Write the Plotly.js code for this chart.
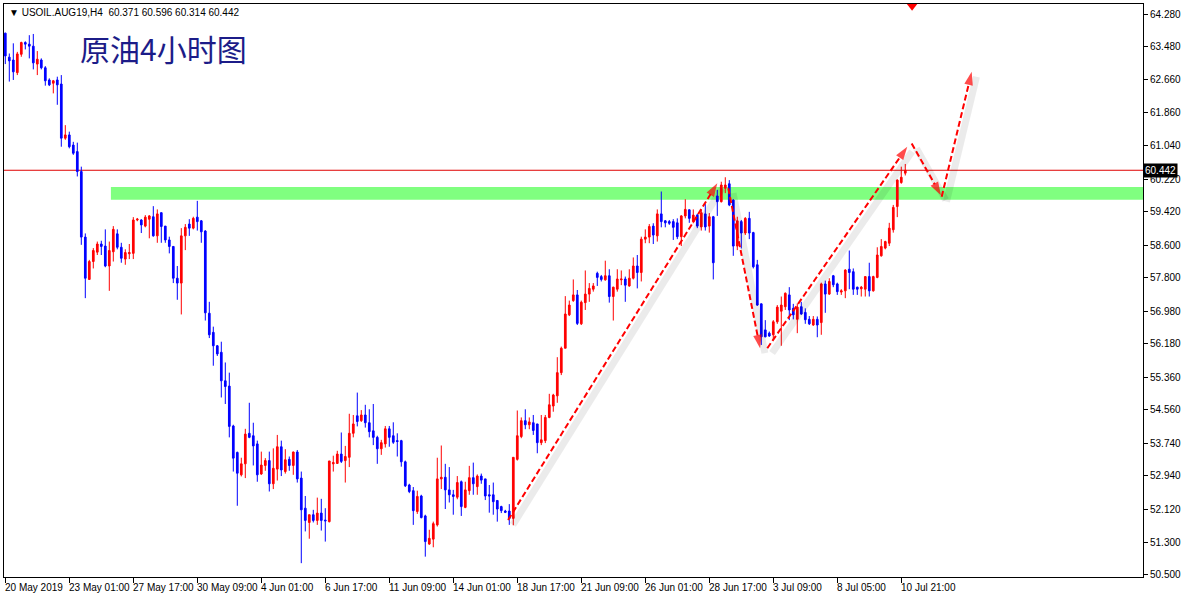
<!DOCTYPE html>
<html><head><meta charset="utf-8">
<script src="https://cdn.plot.ly/plotly-3.0.1.min.js"></script>
<style>
html,body{margin:0;padding:0;background:#fff;}
#chart{width:1184px;height:600px;}
</style>
</head><body><div id="chart"></div>
<script>
// ---- data (USOIL.AUG19, H4) ----
const openPrices = [
63.81,63.22,63.15,62.84,63.29,63.58,63.54,63.49,63.05,63.15,
62.96,62.66,62.58,62.66,62.56,61.23,61.31,61.06,60.90,60.41,
58.80,57.76,58.20,58.43,58.63,58.58,58.09,58.44,58.88,58.55,
58.26,58.39,58.40,59.22,59.22,59.07,59.24,59.30,58.83,59.40,
59.07,58.73,58.57,57.79,57.67,58.83,59.12,59.02,59.29,59.20,
58.95,56.93,56.46,56.13,55.97,55.27,55.14,54.16,53.51,52.96,
53.23,53.98,53.92,53.72,52.98,53.19,53.31,52.74,53.10,53.65,
53.04,53.34,53.19,53.52,52.88,52.14,51.79,51.98,51.84,52.02,
51.85,51.81,53.23,53.24,53.47,53.31,53.39,53.98,54.41,54.29,
54.43,54.24,54.04,53.88,53.60,53.72,54.09,53.92,53.80,53.80,
53.28,52.71,52.57,52.06,52.44,51.95,51.26,51.38,51.73,52.86,
52.90,52.59,52.47,52.41,52.79,52.16,52.57,52.89,52.67,52.93,
52.86,52.47,52.47,52.33,52.18,52.07,52.07,51.89,53.34,53.90,
54.29,54.19,54.24,54.21,53.75,53.80,54.37,54.65,54.90,55.47,
56.07,56.89,57.24,57.38,56.67,57.19,57.40,57.52,57.91,57.83,
57.75,57.85,57.34,57.52,57.75,57.77,57.60,57.79,58.09,57.93,
58.75,58.80,59.07,58.83,59.37,59.20,59.18,59.18,59.15,58.81,
59.32,59.47,59.18,59.34,59.05,59.37,59.07,59.30,59.81,59.67,
60.00,60.11,59.71,58.58,59.18,58.90,59.26,58.91,58.12,57.16,
56.52,56.44,56.40,56.72,56.98,57.09,57.38,57.05,56.78,57.09,
56.95,56.78,56.64,56.78,56.70,57.65,57.40,57.85,57.65,57.45,
57.48,58.01,57.95,57.57,57.53,57.52,57.83,57.48,57.81,58.34,
58.53,58.65,58.98,59.55,60.14,60.371];
const highPrices = [
63.82,63.31,63.56,63.35,63.60,63.61,63.76,63.79,63.37,63.19,
63.00,62.70,62.66,62.74,62.78,61.55,61.39,61.14,61.12,60.53,
58.89,58.24,58.53,58.69,58.71,58.99,58.69,59.07,58.99,58.66,
58.50,58.63,59.29,59.27,59.24,59.34,59.34,59.56,59.48,59.40,
59.07,58.81,58.58,58.09,59.02,59.12,59.24,59.30,59.69,59.22,
58.97,57.21,56.60,56.15,56.23,55.72,55.47,54.19,53.53,53.38,
54.09,54.73,54.24,53.80,53.53,53.37,53.53,53.61,53.94,53.80,
53.59,53.41,53.53,53.57,53.04,52.44,51.98,52.10,52.40,52.37,
52.14,53.30,53.43,53.55,54.00,53.67,54.46,54.43,54.98,54.55,
54.68,54.57,54.70,53.92,53.82,54.16,54.16,54.25,53.98,53.82,
53.31,52.74,52.66,52.57,52.47,51.98,51.61,51.81,53.38,53.68,
53.23,53.15,52.59,52.93,52.82,52.79,53.18,53.26,52.97,52.99,
52.86,52.71,52.77,52.34,52.20,52.10,52.24,53.39,54.54,54.37,
54.57,54.37,54.43,54.21,54.43,54.43,54.95,54.95,55.85,56.11,
57.35,57.24,57.76,57.50,57.24,57.98,57.67,57.67,57.95,57.87,
58.22,58.01,57.58,58.01,57.98,57.83,58.01,58.30,58.36,58.81,
58.99,59.12,59.14,59.48,59.92,59.22,59.22,59.24,59.26,59.34,
59.73,59.48,59.48,59.37,59.48,59.61,59.39,59.32,59.96,60.16,
60.27,60.20,59.73,59.30,59.22,59.29,59.42,58.93,58.24,57.17,
56.76,56.48,56.76,57.13,57.34,57.44,57.57,57.16,57.17,57.21,
57.05,56.86,56.86,56.85,57.68,57.73,57.79,57.87,57.68,57.52,
58.01,58.47,58.03,57.58,57.60,57.83,58.17,57.85,58.55,58.75,
58.71,59.15,59.59,60.22,60.53,60.596];
const lowPrices = [
63.05,62.62,62.66,62.78,63.23,63.41,63.19,62.92,62.78,62.92,
62.52,62.51,62.33,62.05,61.02,61.19,60.98,60.82,60.29,58.61,
57.30,57.75,58.03,58.36,58.36,58.06,57.48,58.20,58.50,58.17,
58.12,58.26,58.26,59.19,58.90,59.04,58.77,58.81,58.66,58.66,
58.66,58.40,57.67,57.26,56.90,58.48,58.83,58.99,58.96,58.66,
56.75,56.32,55.64,55.88,54.86,54.70,53.88,53.04,52.20,52.92,
52.88,53.86,53.19,52.79,52.96,53.06,52.55,52.61,52.82,52.93,
52.99,53.06,52.96,52.77,50.79,51.57,51.39,51.79,51.73,51.59,
51.32,51.79,53.04,53.23,53.25,52.77,53.15,53.88,54.15,54.26,
54.12,53.88,53.69,53.23,53.45,53.63,53.65,53.72,53.41,53.16,
52.66,52.51,51.73,52.00,51.89,50.95,51.24,51.18,51.69,52.61,
52.12,52.28,51.98,52.36,51.95,52.14,52.47,52.47,52.47,52.74,
52.34,52.03,51.98,51.81,52.02,52.02,51.73,51.72,53.31,53.86,
54.08,54.08,53.94,53.49,53.69,53.74,54.35,54.51,54.73,55.41,
56.07,56.86,57.21,56.64,56.64,57.01,57.21,57.46,57.60,57.71,
57.73,57.19,56.75,57.46,57.62,57.21,57.58,57.76,57.54,57.71,
58.65,58.65,58.63,58.69,59.04,59.04,59.10,58.73,58.75,58.58,
59.26,59.15,59.14,59.02,58.96,58.96,58.91,57.76,59.32,59.65,
59.88,59.56,58.34,58.48,58.52,58.85,58.75,58.03,57.11,56.15,
56.34,56.35,56.27,56.67,56.13,57.01,56.76,56.78,56.44,56.89,
56.67,56.64,56.62,56.34,56.40,56.94,57.38,57.57,57.38,57.38,
57.30,57.52,57.38,57.38,57.34,57.34,57.34,57.46,57.79,58.32,
58.50,58.58,58.91,59.29,60.11,60.314];
const closePrices = [
63.25,63.13,62.86,63.30,63.58,63.54,63.49,63.08,63.17,62.96,
62.64,62.54,62.64,62.54,61.23,61.31,61.02,60.86,60.41,58.80,
57.79,58.20,58.47,58.63,58.57,58.09,58.47,58.99,58.55,58.28,
58.42,58.42,59.22,59.24,59.10,59.29,59.32,58.83,59.37,59.06,
58.73,58.57,57.79,57.67,58.83,59.04,59.02,59.26,59.18,58.93,
56.94,56.40,56.13,55.93,55.27,55.13,54.15,53.37,53.00,53.23,
53.96,53.88,53.67,52.96,53.20,53.31,52.74,53.12,53.65,53.08,
53.33,53.19,53.52,52.86,52.10,51.84,51.98,51.84,52.02,51.84,
51.83,53.30,53.26,53.47,53.29,53.41,53.98,54.21,54.27,54.43,
54.24,54.02,53.88,53.60,53.75,54.09,53.88,53.76,53.78,53.28,
52.69,52.55,52.08,52.43,51.91,51.32,51.40,51.76,52.86,52.90,
52.59,52.47,52.43,52.77,52.18,52.59,52.89,52.74,52.93,52.83,
52.44,52.44,52.30,52.12,52.08,52.04,51.89,53.39,53.92,54.29,
54.19,54.26,54.05,53.75,53.82,54.37,54.68,54.92,55.47,56.07,
56.91,57.13,57.38,56.68,57.20,57.40,57.54,57.60,57.81,57.76,
57.85,57.34,57.57,57.77,57.77,57.62,57.79,58.09,57.93,58.75,
58.80,59.06,58.85,59.37,59.18,59.15,59.14,59.04,58.81,59.32,
59.48,59.26,59.34,59.07,59.40,59.05,59.30,58.17,59.67,60.08,
60.08,59.59,58.58,59.20,58.90,59.26,58.90,58.07,57.13,56.35,
56.35,56.37,56.72,57.08,57.13,57.42,57.01,56.89,57.08,56.91,
56.77,56.67,56.78,56.64,57.65,57.40,57.71,57.63,57.46,57.48,
57.99,57.93,57.52,57.52,57.57,57.83,57.48,57.83,58.36,58.57,
58.69,59.02,59.53,60.20,60.27,60.442];

const timeLabels = ["20 May 2019","23 May 01:00","27 May 17:00","30 May 09:00","4 Jun 01:00",
  "6 Jun 17:00","11 Jun 09:00","14 Jun 01:00","18 Jun 17:00","21 Jun 09:00",
  "26 Jun 01:00","28 Jun 17:00","3 Jul 09:00","8 Jul 05:00","10 Jul 21:00"];
const labelEvery = 16; // bars between time labels
const priceTicks = [64.28,63.48,62.66,61.86,61.04,60.22,59.42,58.60,57.80,56.98,56.18,55.36,54.56,53.74,52.94,52.12,51.30,50.50];

const symbolText = "USOIL.AUG19,H4";
const lastOHLC = ["60.371","60.596","60.314","60.442"];
const lastPrice = 60.442;
const titleText = "原油4小时图";

// resistance zone (green band)
const zoneStartBar = 26.4, zoneLow = 59.72, zoneHigh = 60.03;

// hand-drawn dashed arrows: [start, end] in (bar, price)
const arrowBars = [[125.7,178.0],[180.75,188.7],[190.5,225.5],[226.6,233.9],[234.1,241.6]];
const arrowPrices = [[51.85,60.12],[60.00,56.07],[56.07,61.02],[61.10,59.83],[59.79,62.86]];

// alert marker at the top edge
const alertBar = 226.7, alertPrice = 64.47;

// ---- chart ----
const n = closePrices.length;
const barIndex = Array.from({length:n}, (_, i) => i);
const tickBars = timeLabels.map((_, k) => k * labelEvery);
const xRange = [-0.325, 284.43];
const yRange = [50.450, 64.526];
const FONT = "Liberation Sans, Arial, sans-serif";

const traces = [];
traces.push({
  type:'candlestick', x:barIndex, open:openPrices, high:highPrices, low:lowPrices, close:closePrices,
  increasing:{line:{color:'#ff0000', width:1}, fillcolor:'#ff0000'},
  decreasing:{line:{color:'#0000ff', width:1}, fillcolor:'#0000ff'},
  whiskerwidth:0, hoverinfo:'skip', showlegend:false
});
// arrow shadows
const shDx = 1.2, shDy = 0.12;
arrowBars.forEach((ab, k) => {
  traces.push({type:'scatter', mode:'lines', x:ab.map(v => v + shDx), y:arrowPrices[k].map(v => v - shDy),
    line:{color:'rgba(0,0,0,0.08)', width:7}, hoverinfo:'skip', showlegend:false});
});
arrowBars.forEach((ab, k) => {
  traces.push({type:'scatter', mode:'lines+markers', x:ab, y:arrowPrices[k],
    line:{color:'#ff0000', width:2, dash:'6px,3px'},
    marker:{symbol:'arrow', size:[0,14], angleref:'previous', color:'#ff0000', line:{width:0}},
    hoverinfo:'skip', showlegend:false});
});
traces.push({type:'scatter', mode:'markers', x:[alertBar], y:[alertPrice],
  marker:{symbol:'triangle-down', size:9, color:'#ff0000'}, hoverinfo:'skip', showlegend:false});

const annotations = [];
timeLabels.forEach((t, k) => {
  annotations.push({xref:'x', x:tickBars[k], yref:'paper', y:0, xanchor:'left', yanchor:'top',
    xshift:-2, yshift:-3, text:t, showarrow:false, font:{family:FONT, size:10, color:'#000'}});
});
annotations.push({xref:'paper', x:0, yref:'paper', y:1, xanchor:'left', yanchor:'top', xshift:3, yshift:-1,
  text:'▼\u00A0' + symbolText + '\u00A0\u00A0' + lastOHLC.join(' '), showarrow:false,
  font:{family:FONT, size:10, color:'#000'}});
annotations.push({xref:'paper', x:0, yref:'paper', y:1, xanchor:'left', yanchor:'middle', xshift:74, yshift:-44,
  text:titleText, showarrow:false, font:{family:'Noto Sans CJK SC', size:30, color:'#1c1c88'}});
annotations.push({xref:'paper', x:1, yref:'y', y:lastPrice, xanchor:'left', yanchor:'middle', xshift:0,
  text:lastOHLC[3], showarrow:false, bgcolor:'#000', borderpad:1,
  font:{family:FONT, size:10, color:'#fff'}});

const shapes = [
  {type:'rect', xref:'x', yref:'y', x0:zoneStartBar, x1:xRange[1], y0:zoneLow, y1:zoneHigh,
   fillcolor:'#80ff80', line:{width:0}, layer:'below'},
  {type:'line', xref:'paper', yref:'y', x0:0, x1:1, y0:lastPrice, y1:lastPrice,
   line:{color:'#e00000', width:1}, layer:'below'}
];

const layout = {
  width:1184, height:600,
  margin:{l:4, r:41, t:4, b:23},
  paper_bgcolor:'#ffffff', plot_bgcolor:'#ffffff',
  showlegend:false, boxgap:0.4,
  xaxis:{range:xRange, type:'linear', showgrid:false, zeroline:false, showline:true, mirror:true,
    linecolor:'#000', linewidth:1, ticks:'outside', ticklen:5, tickcolor:'#000', tickwidth:1,
    tickvals:tickBars, showticklabels:false, rangeslider:{visible:false}, fixedrange:true},
  yaxis:{range:yRange, side:'right', showgrid:false, zeroline:false, showline:true, mirror:true,
    linecolor:'#000', linewidth:1, ticks:'outside', ticklen:4, tickcolor:'#000', tickwidth:1,
    tickvals:priceTicks, tickformat:'.3f', tickfont:{family:FONT, size:10, color:'#000'}, fixedrange:true},
  shapes:shapes, annotations:annotations
};

Plotly.newPlot('chart', traces, layout, {staticPlot:true, displayModeBar:false});
</script></body></html>
